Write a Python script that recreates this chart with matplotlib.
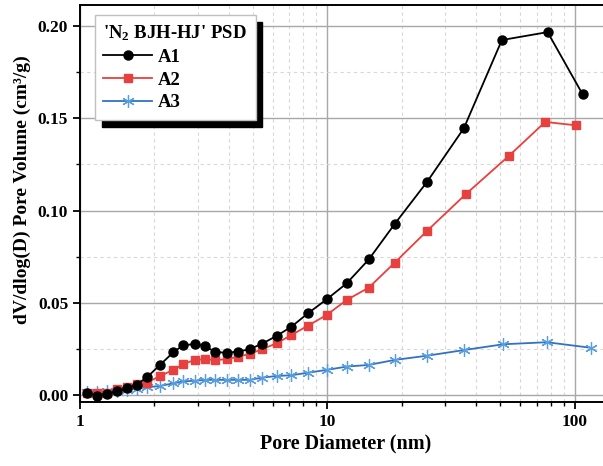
import numpy as np
import matplotlib
matplotlib.use("Agg")
import matplotlib.pyplot as plt
from matplotlib.ticker import FixedLocator, FuncFormatter, LogLocator, MultipleLocator

# pore diameters (nm) shared by the three curves up to ~25 nm
d_base = [1.064, 1.168, 1.282, 1.407, 1.544, 1.695, 1.86, 2.11, 2.38, 2.62,
          2.91, 3.19, 3.52, 3.91, 4.34, 4.85, 5.44, 6.23, 7.15, 8.35,
          9.94, 11.96, 14.7, 18.7, 25.3]
d_a1 = d_base + [35.6, 50.7, 77.6, 107.5]
d_a2 = d_base + [36.2, 54.0, 75.9, 100.9]
d_a3 = d_base + [35.8, 51.4, 77.1, 116.0]

a1 = [0.0010, -0.0003, 0.0005, 0.0020, 0.0036, 0.0055, 0.0095, 0.0164, 0.0231, 0.0271,
      0.0275, 0.0266, 0.0233, 0.0229, 0.0235, 0.0248, 0.0278, 0.0320, 0.0370, 0.0443,
      0.0519, 0.0605, 0.0735, 0.0927, 0.1156, 0.1446, 0.1924, 0.1967, 0.1630]
a2 = [0.0012, 0.0009, 0.0012, 0.0030, 0.0045, 0.0060, 0.0067, 0.0103, 0.0136, 0.0168,
      0.0190, 0.0193, 0.0190, 0.0193, 0.0208, 0.0222, 0.0248, 0.0280, 0.0325, 0.0376,
      0.0434, 0.0515, 0.0582, 0.0717, 0.0890, 0.1088, 0.1295, 0.1480, 0.1462]
a3 = [0.0015, 0.0017, 0.0020, 0.0023, 0.0028, 0.0035, 0.0042, 0.0049, 0.0063, 0.0074,
      0.0077, 0.0082, 0.0082, 0.0082, 0.0082, 0.0082, 0.0094, 0.0103, 0.0107, 0.0121,
      0.0136, 0.0154, 0.0163, 0.0190, 0.0213, 0.0244, 0.0275, 0.0286, 0.0256]

plt.rcParams['font.family'] = ['Liberation Serif', 'DejaVu Serif']
plt.rcParams['font.weight'] = 'bold'
plt.rcParams['mathtext.fontset'] = 'custom'
plt.rcParams['mathtext.rm'] = 'Liberation Serif:bold'
plt.rcParams['mathtext.it'] = 'Liberation Serif:bold'
plt.rcParams['mathtext.bf'] = 'Liberation Serif:bold'

fig = plt.figure(figsize=(6.03, 4.66), dpi=100)
ax = fig.add_axes([80/603, 64/466, 531/603, 397/466])

ax.plot(d_a1, a1, color='black', lw=1.3, marker='o', ms=6.5, label='A1', zorder=5)
ax.plot(d_a2, a2, color='#e8403e', lw=1.3, marker='s', ms=5.5, label='A2', zorder=4)
ax.plot(d_a3, a3, color='#3272c0', lw=1.3, marker=(6, 2, 0), ms=9, mew=0.9,
        mec='#5a9ee0', label='A3', zorder=3)

ax.set_xscale('log')
ax.set_xlim(1, 140)
ax.set_ylim(-0.0038, 0.2114)

ax.xaxis.set_major_locator(FixedLocator([1, 10, 100]))
ax.xaxis.set_minor_locator(LogLocator(base=10, subs=np.arange(2, 10)))
ax.xaxis.set_major_formatter(FuncFormatter(lambda v, p: '%g' % v))
ax.xaxis.set_minor_formatter(FuncFormatter(lambda v, p: ''))
ax.yaxis.set_major_locator(MultipleLocator(0.05))
ax.yaxis.set_minor_locator(MultipleLocator(0.025))
ax.yaxis.set_major_formatter(FuncFormatter(lambda v, p: '%.2f' % v))

ax.grid(True, which='major', color='#a8a8a8', lw=1.0, ls='-')
ax.grid(True, which='minor', color='#d8d8d8', lw=0.8, ls=(0, (3, 3)))
ax.set_axisbelow(True)

for s in ax.spines.values():
    s.set_linewidth(1.4)
ax.tick_params(which='major', direction='out', length=5, width=1.3, labelsize=12.5)
ax.tick_params(which='minor', direction='out', length=3, width=1.0)

ax.set_xlabel('Pore Diameter (nm)', fontsize=14.5, fontweight='bold', labelpad=3)
ax.set_ylabel('dV/dlog(D) Pore Volume (cm³/g)', fontsize=14, fontweight='bold')
ax.yaxis.set_label_coords(-0.092, 0.535)

leg = ax.legend(title="'N$_2$ BJH-HJ' PSD", loc='upper left',
                bbox_to_anchor=(15/531, 1 - 10/397), borderaxespad=0,
                fancybox=False, shadow={'color': 'black', 'alpha': 1, 'ox': 5, 'oy': -5},
                framealpha=1, edgecolor='#c0c0c0', handlelength=2.6,
                prop={'size': 13.5, 'weight': 'bold'},
                title_fontproperties={'size': 13.5, 'weight': 'bold'},
                labelspacing=0.3, borderpad=0.45, handletextpad=0.3)
leg.get_frame().set_linewidth(1.0)
leg._legend_box.align = 'left'

fig.savefig('out.png', dpi=100)
